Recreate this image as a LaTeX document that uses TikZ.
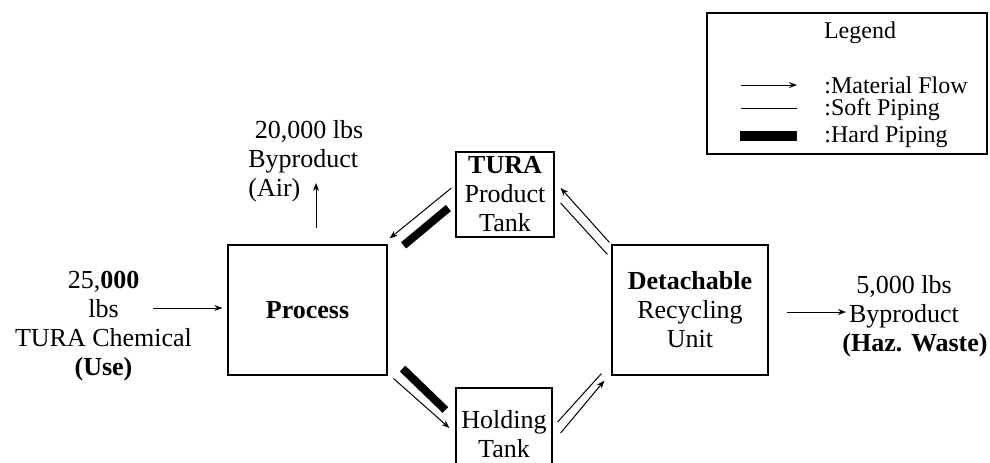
\documentclass[tikz,border=0pt]{standalone}
\usepackage{fontspec}
\setmainfont{Liberation Serif}
\usetikzlibrary{positioning,arrows.meta}
\tikzset{
  every node/.style={
    font=\fontsize{13}{14.5}\selectfont
  },
  box/.style={draw, line width=0.6pt, align=center, inner sep=0.5pt},
  flow/.style={-{Stealth[length=4pt,width=3pt]}, line width=0.5pt},
  soft/.style={line width=0.5pt},
  hard/.style={line width=4pt},
  legtext/.style={anchor=west, inner sep=0pt, font=\fontsize{12}{13}\selectfont}
}

\begin{document}
\begin{tikzpicture}[x=0.5pt,y=-0.5pt]
          \useasboundingbox (0,0) rectangle (990,462);
          \clip (0,0) rectangle (990,462);
          \node[box, minimum width=79.5pt, minimum height=65pt] (proc) at (307.5,310) {\textbf{Process}};
          \node[box, on grid, above right=57.75pt and 98.75pt of proc, minimum width=49pt, minimum height=42.5pt] (prod) {\textbf{TURA}\\Product\\Tank};
          \node[box, on grid, below right=62pt and 98.25pt of proc, minimum width=48pt, minimum height=46pt] (hold) {Holding\\Tank};
          \node[box, on grid, right=191.25pt of proc, minimum width=78pt, minimum height=65pt] (recy) {\textbf{Detachable}\\Recycling\\Unit};
          \node[align=center] (inp) at (103.5,326) {25,\textbf{000}\\lbs\\TURA Chemical\\\textbf{(Use)}};
          \node[align=left, anchor=west, inner sep=0pt] (air) at (248,161.5) {\ 20,000 lbs\\Byproduct\\(Air)};
          \node[align=center] (waste) at (904,316) {5,000 lbs\\Byproduct\\\hspace*{11pt}\textbf{(Haz. Waste)}};
          \coordinate (inend) at (153,308);
          \coordinate (airend) at (316,183);
          \coordinate (wasteend) at (846,312);
          \draw[flow] (inend) to ([shift={(-5,-2)}]proc.west);
          \draw[flow] ([shift={(8.5,-16)}]proc.north) to (airend);
          \draw[flow] ([shift={(18,2)}]recy.east) to (wasteend);
          \draw[flow] ([shift={(-4,-6.5)}]prod.west) to ([shift={(2,-6)}]proc.north east);
          \draw[hard] ([shift={(-7,13.5)}]prod.west) to ([shift={(16,1)}]proc.north east);
          \draw[hard] ([shift={(15,-7)}]proc.south east) to ([shift={(-10,-24)}]hold.west);
          \draw[flow] ([shift={(6,3)}]proc.south east) to ([shift={(-6,-6)}]hold.west);
          \draw[soft] ([shift={(5,-12)}]hold.east) to ([shift={(-10,-2)}]recy.south west);
          \draw[flow] ([shift={(8,-1)}]hold.east) to ([shift={(-7,5)}]recy.south west);
          \draw[flow] ([shift={(-2,-2)}]recy.north west) to ([shift={(6,-6.5)}]prod.east);
          \draw[soft] ([shift={(-4,10)}]recy.north west) to ([shift={(6,8.5)}]prod.east);
          % legend
          \node[draw, line width=0.6pt, minimum width=140pt, minimum height=70.5pt] (leg) at (847,83.5) {};
          \node[font=\fontsize{12}{13}\selectfont] (legtitle) at (860,33) {Legend};
          \node[legtext] (lflow) at (824,85) {:Material Flow};
          \node[legtext] (lsoft) at (824,110) {:Soft Piping};
          \node[legtext] (lhard) at (824,137) {:Hard Piping};
          \draw[flow] ([shift={(-83,0)}]lflow.west) to ([shift={(-27,0)}]lflow.west);
          \draw[soft] ([shift={(-83,-2)}]lsoft.west) to ([shift={(-27,-2)}]lsoft.west);
          \fill ([shift={(-84,-6)}]lhard.west) rectangle ([shift={(-27,4)}]lhard.west);
        \end{tikzpicture}
\end{document}
